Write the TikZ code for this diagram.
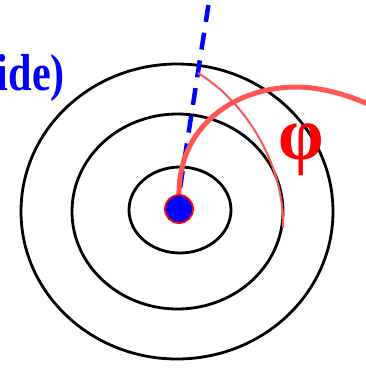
\documentclass[tikz,border=0pt]{standalone}
\usepackage{fontspec}
\setmainfont{Liberation Serif}
\usepackage{xcolor}
\usetikzlibrary{positioning,calc}
\definecolor{PhiRed}{HTML}{FF0000}
\definecolor{ArcRed}{HTML}{FF5555}
\definecolor{AxisBlue}{HTML}{0000FF}

\begin{document}
\begin{tikzpicture}[
  x=1pt,y=-1pt,
  ring/.style={draw=black,line width=2.8pt},
  axis/.style={draw=AxisBlue,line width=4.5pt,dash pattern=on 17pt off 11pt,dash phase=21pt},
  bigarc/.style={draw=ArcRed,line width=5pt},
  thinarc/.style={draw=ArcRed,line width=2pt},
  lbl/.style={inner sep=0pt,xscale=0.81,font=\fontsize{52}{52}\selectfont\bfseries},
  philbl/.style={inner sep=0pt,xscale=0.96,font=\fontsize{76}{76}\selectfont\bfseries}
]
  \useasboundingbox (0,0) rectangle (366,368);
  % rings
  \draw[ring] (177,211.5) ellipse [x radius=156pt,y radius=147.5pt];
  \draw[ring] (177.5,211.5) ellipse [x radius=105.5pt,y radius=97.5pt];
  \draw[ring] (180,210) ellipse [x radius=51pt,y radius=43pt];
  % axis and angle
  \coordinate (top) at (209.5,-2);
  \coordinate (rim) at (198,73);
  \coordinate (foot) at (283,228);
  \coordinate (out) at (368,104);
  \node[circle,minimum size=28pt,inner sep=0pt] (dot) at (179,209) {};
  \draw[axis] (dot.north) -- (top);
  \draw[thinarc] (rim) .. controls (250,105) and (285,170) .. (foot);
  \draw[bigarc] (dot.north) .. controls (178,130) and (230,88) .. (295,87)
    .. controls (320,87) and (345,94) .. (out);
  \node[circle,draw=red,line width=1.8pt,fill=AxisBlue,minimum size=28pt,inner sep=0pt] at (dot) {};
  % labels
  \node[lbl,text=AxisBlue,anchor=base east] (side) at (65,90) {ide)};
  \node[philbl,text=PhiRed,anchor=base] (phi) at (301.5,159) {φ};
\end{tikzpicture}
\end{document}
